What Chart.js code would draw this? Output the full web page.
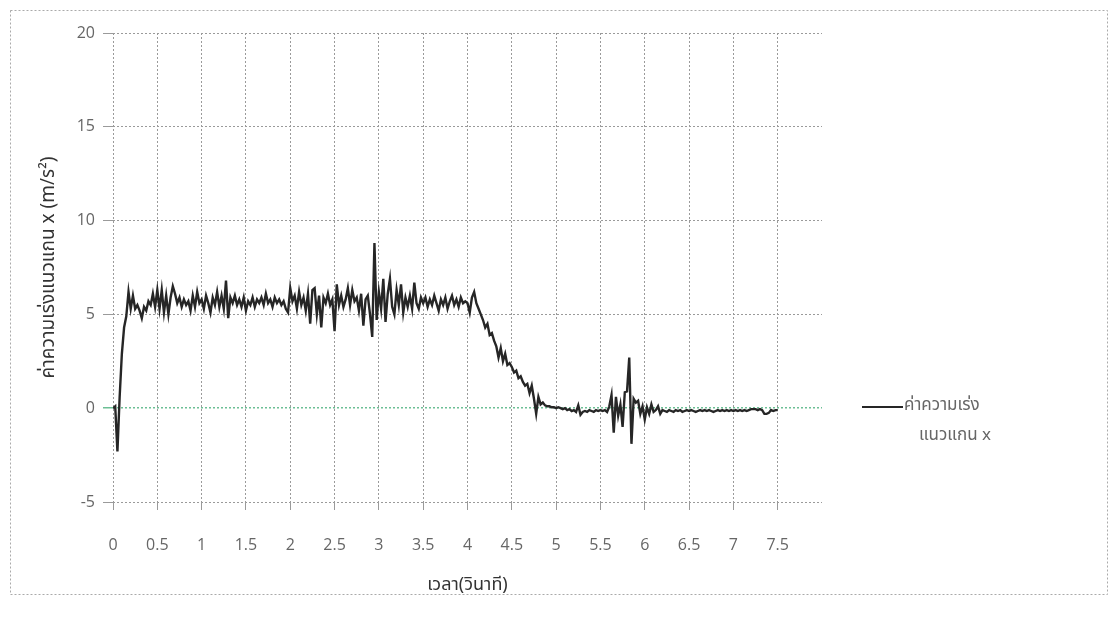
<!DOCTYPE html>
<html lang="th">
<head>
    <meta charset="UTF-8">
    <title>ค่าความเร่งแนวแกน x</title>
    <script src="https://cdn.jsdelivr.net/npm/chart.js"></script>
    <style>
        body { margin: 0; background: #fff; }
        #wrap { width: 1111px; height: 619px; position: relative; }
    </style>
</head>
<body>
<div id="wrap"><canvas id="accChart"></canvas></div>

<script>
    // ช่วงเวลาระหว่างจุด (วินาที)
    const dt = 0.025;

    // ค่าความเร่งแนวแกน x (m/s^2) อ่านจากกราฟ ทีละ 0.5 วินาที ต่อแถว
    const accX = [
        0, 0.1, -2.3, 0.6, 2.9, 4.3, 4.9, 6.2, 5.3, 6.0, 5.3, 5.5, 5.2, 4.8, 5.4, 5.2, 5.7, 5.5, 6.1, 5.4,
        6.3, 5.3, 6.3, 5.1, 6.0, 5.0, 5.9, 6.5, 6.1, 5.6, 5.9, 5.4, 5.8, 5.5, 5.7, 5.2, 6.0, 5.4, 6.2, 5.6,
        5.8, 5.3, 6.0, 5.6, 5.1, 5.9, 5.5, 6.2, 5.4, 6.0, 5.3, 6.8, 4.8, 5.9, 5.6, 6.0, 5.5, 5.8, 5.4, 5.9,
        5.2, 5.7, 5.5, 5.9, 5.4, 5.8, 5.6, 5.9, 5.5, 6.1, 5.6, 5.8, 5.4, 5.9, 5.6, 5.8, 5.5, 5.7, 5.3, 5.1,
        6.4, 5.7, 6.0, 5.3, 6.2, 5.5, 5.9, 5.2, 6.1, 4.5, 6.3, 6.4, 5.0, 6.0, 4.3, 5.9, 5.6, 6.1, 5.5, 5.8,
        4.1, 6.6, 5.5, 6.0, 5.4, 5.8, 6.4, 5.5, 6.3, 5.7, 5.9, 5.2, 6.1, 4.4, 5.8, 6.0, 5.0, 3.8, 8.8, 4.7,
        6.2, 5.3, 6.9, 4.6, 6.1, 6.9, 5.4, 5.0, 6.3, 5.5, 6.6, 5.1, 5.9, 5.4, 6.0, 5.3, 6.7, 5.6, 5.3, 5.9,
        5.6, 5.9, 5.4, 5.8, 5.5, 6.0, 5.6, 5.2, 5.8, 5.5, 5.9, 5.3, 5.7, 6.0, 5.5, 5.8, 5.4, 5.9, 5.6, 5.7,
        5.6, 5.1, 5.9, 6.2, 5.6, 5.3, 5.0, 4.7, 4.3, 4.5, 3.9, 4.0, 3.6, 3.3, 2.7, 3.2, 2.5, 2.9, 2.3, 2.4,
        2.2, 1.9, 2.0, 1.6, 1.7, 1.4, 1.2, 1.3, 0.8, 1.2, 0.5, -0.3, 0.6, 0.2, 0.3, 0.15, 0.1, 0.1, 0.05, 0.05,
        0.0, 0.05, 0.0, -0.05, 0.0, -0.1, -0.05, -0.15, -0.1, -0.2, 0.15, -0.35, -0.2, -0.15, -0.2, -0.1, -0.15, -0.2, -0.1, -0.15,
        -0.1, -0.15, -0.1, -0.2, 0.1, 0.7, -1.3, 0.6, -0.4, 0.2, -1.0, 0.85, 0.9, 2.7, -1.9, 0.5, 0.3, 0.4, -0.3, 0.1,
        -0.6, 0.05, -0.3, 0.2, -0.2, -0.1, 0.1, -0.3, -0.1, -0.15, -0.2, -0.1, -0.15, -0.2, -0.1, -0.15, -0.1, -0.2, -0.15, -0.1,
        -0.15, -0.1, -0.15, -0.2, -0.15, -0.1, -0.15, -0.1, -0.15, -0.1, -0.15, -0.2, -0.15, -0.1, -0.15, -0.1, -0.15, -0.1, -0.15, -0.1,
        -0.15, -0.1, -0.15, -0.1, -0.15, -0.1, -0.15, -0.1, -0.05, -0.05, -0.05, -0.1, -0.05, -0.1, -0.3, -0.3, -0.25, -0.1, -0.15, -0.1,
        -0.1
    ];

    const seriesLabel = ['ค่าความเร่ง', 'แนวแกน x'];
    const xTitle = 'เวลา(วินาที)';
    const yTitle = 'ค่าความเร่งแนวแกน x (m/s²)';

    const thaiFont = '"Noto Sans Thai", "Noto Sans", "DejaVu Sans", sans-serif';
    const tickFont = '"Open Sans", "Liberation Sans", sans-serif';

    const points = accX.map((v, i) => ({ x: +(i * dt).toFixed(3), y: v }));

    // กรอบรอบกราฟ + legend แบบสองบรรทัด
    const decor = {
        id: 'decor',
        beforeDraw(chart) {
            const c = chart.ctx;
            c.save();
            c.fillStyle = '#fff';
            c.fillRect(0, 0, chart.width, chart.height);
            c.strokeStyle = '#aaa';
            c.lineWidth = 1;
            c.setLineDash([2, 2]);
            c.strokeRect(10.5, 10.5, 1097, 584);
            c.restore();
        },
        afterDraw(chart) {
            const c = chart.ctx;
            const ds = chart.data.datasets[0];
            c.save();
            c.strokeStyle = ds.borderColor;
            c.lineWidth = 2;
            c.beginPath();
            c.moveTo(862, 407);
            c.lineTo(903, 407);
            c.stroke();
            c.fillStyle = '#666';
            c.font = '17px ' + thaiFont;
            c.textBaseline = 'middle';
            c.textAlign = 'left';
            c.fillText(ds.label[0], 904, 407);
            c.textAlign = 'center';
            c.fillText(ds.label[1], 955, 437);
            c.restore();
        }
    };

    const ctx = document.getElementById('accChart').getContext('2d');
    const accChart = new Chart(ctx, {
        type: 'line',
        data: {
            datasets: [{
                label: seriesLabel,
                data: points,
                borderColor: '#262626',
                borderWidth: 2.4,
                pointRadius: 0,
                tension: 0,
                fill: false
            }]
        },
        options: {
            responsive: true,
            maintainAspectRatio: false,
            animation: false,
            layout: { padding: { top: 33, right: 289, bottom: 0, left: 0 } },
            plugins: {
                legend: { display: false },
                tooltip: { enabled: false }
            },
            scales: {
                x: {
                    type: 'linear',
                    min: 0,
                    max: 8,
                    afterFit: (s) => { s.height = 117; },
                    ticks: {
                        stepSize: 0.5,
                        padding: 26,
                        maxRotation: 0,
                        autoSkip: false,
                        color: '#666',
                        font: { family: tickFont, size: 16 },
                        callback: (v) => v >= 8 ? '' : v
                    },
                    grid: {
                        color: (c) => c.tick && c.tick.value >= 8 ? 'rgba(0,0,0,0)' : '#9a9a9a',
                        tickLength: 8,
                        lineWidth: 1
                    },
                    border: { display: false, dash: [2, 2] },
                    title: {
                        display: true,
                        text: xTitle,
                        color: '#333',
                        font: { family: thaiFont, size: 18 },
                        padding: { top: 0, bottom: 22 }
                    }
                },
                y: {
                    min: -5,
                    max: 20,
                    afterFit: (s) => { s.width = 113; },
                    ticks: {
                        stepSize: 5,
                        padding: 8,
                        color: '#666',
                        font: { family: tickFont, size: 16 }
                    },
                    grid: {
                        color: (c) => c.tick && c.tick.value === 0 ? '#6cbf95' : '#9a9a9a',
                        tickLength: 10,
                        lineWidth: (c) => c.tick && c.tick.value === 0 ? 1.5 : 1
                    },
                    border: { display: false, dash: [2, 2] },
                    title: {
                        display: true,
                        text: yTitle,
                        color: '#333',
                        font: { family: thaiFont, size: 19 },
                        padding: { top: 39, bottom: 0 }
                    }
                }
            }
        },
        plugins: [decor]
    });
</script>
</body>
</html>
